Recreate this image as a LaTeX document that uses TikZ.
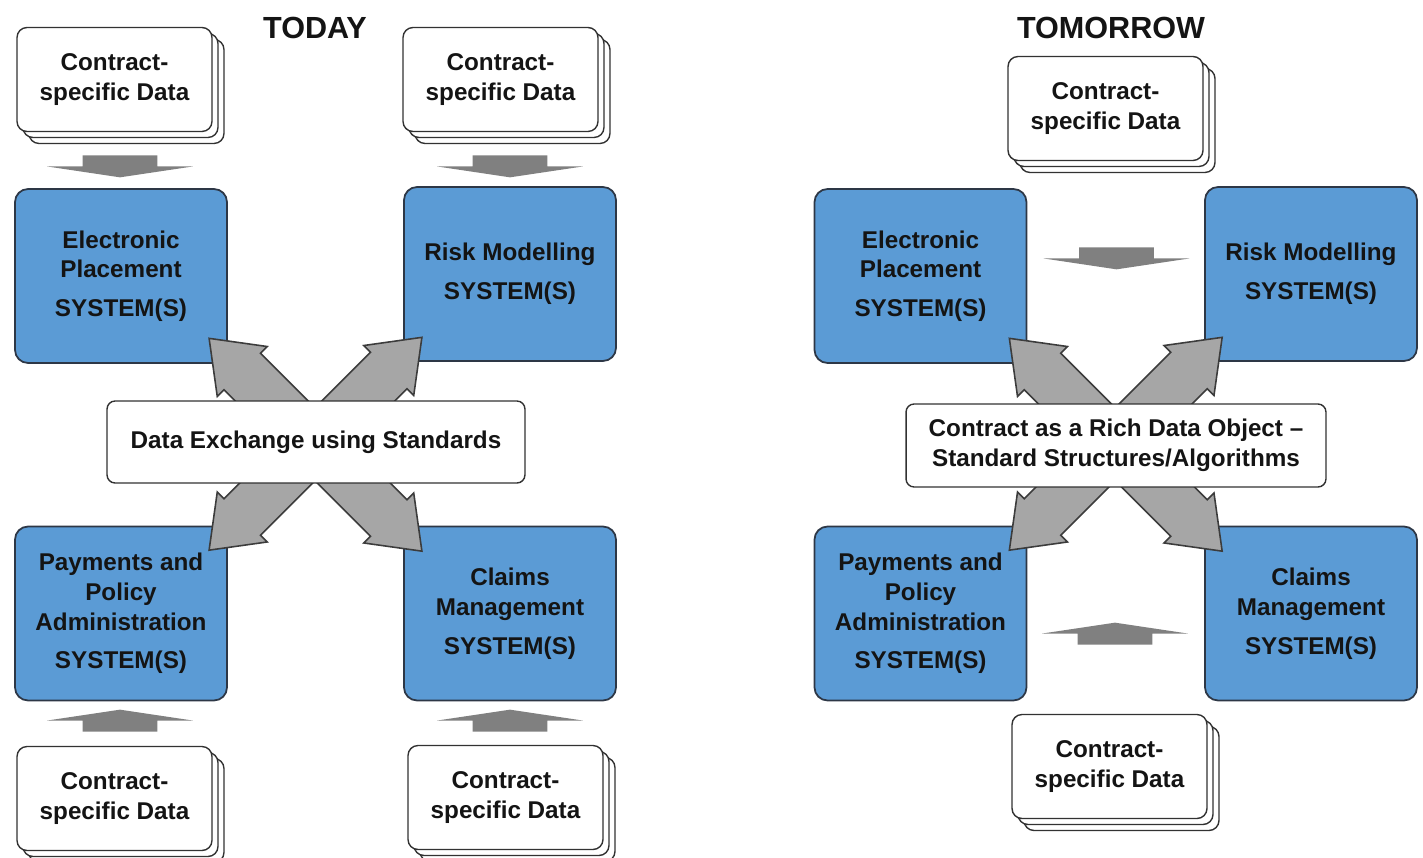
\documentclass[tikz,border=0pt]{standalone}
\usepackage{fontspec}
\setmainfont{Liberation Sans}
\usetikzlibrary{shapes.arrows,shadows,calc}

\definecolor{boxblue}{RGB}{91,155,213}
\definecolor{boxline}{RGB}{45,55,70}
\definecolor{arrowgray}{RGB}{166,166,166}
\definecolor{arrowline}{RGB}{60,60,60}
\definecolor{feedgray}{RGB}{128,128,128}
\definecolor{docline}{RGB}{50,50,50}
\definecolor{textdark}{RGB}{20,20,20}

\begin{document}
\begin{tikzpicture}[x=0.02cm, y=-0.02cm,
        every node/.style={font=\bfseries\fontsize{13.8}{17}\selectfont, text=textdark},
        title/.style={font=\bfseries\fontsize{17.4}{21}\selectfont},
        system/.style={draw=boxline, fill=boxblue, line width=1pt, rounded corners=0.26cm,
            minimum width=4.24cm, minimum height=3.48cm, align=center},
        docstack/.style={draw=docline, fill=white, line width=0.8pt, rounded corners=0.2cm,
            copy shadow={shadow xshift=0.24cm, shadow yshift=-0.24cm},
            copy shadow={shadow xshift=0.12cm, shadow yshift=-0.12cm},
            minimum width=3.9cm, minimum height=2.08cm, align=center},
        hub/.style={draw=docline, fill=white, line width=0.8pt, rounded corners=0.16cm,
            minimum width=8.36cm, minimum height=1.64cm, align=center},
        feed/.style={single arrow, anchor=tail, fill=feedgray, inner xsep=0pt, inner ysep=0.74cm,
            minimum height=0.44cm, single arrow head extend=0.71cm, single arrow tip angle=163},
        exchange/.style={double arrow, draw=arrowline, fill=arrowgray, line width=0.9pt,
            inner xsep=0pt, inner ysep=0.5cm, minimum height=6.02cm,
            double arrow head extend=0.19cm, double arrow tip angle=74}]
    \useasboundingbox (0,0) rectangle (1423,858);

    % today
    \node[title] (today) at (315,28) {TODAY};
    \node[docstack] (dataEP) at (114.5,79.5) {Contract-\\specific Data};
    \node[docstack] (dataRM) at (500.5,79.5) {Contract-\\specific Data};
    \node[system] (ep) at (121,276) {Electronic\\Placement\\[5pt]SYSTEM(S)};
    \node[system] (rm) at (510,274) {Risk Modelling\\[5pt]SYSTEM(S)};
    \node[system] (pp) at (121,613.5) {Payments and\\Policy\\Administration\\[5pt]SYSTEM(S)};
    \node[system] (cm) at (510,613.5) {Claims\\Management\\[5pt]SYSTEM(S)};
    \node[docstack] (dataPP) at (114.5,798.5) {Contract-\\specific Data};
    \node[docstack] (dataCM) at (505.5,797.5) {Contract-\\specific Data};

    \node[feed, rotate=-90] (inEP) at (120,155) {};
    \node[feed, rotate=-90] (inRM) at (510,155) {};
    \node[feed, rotate=90] (inPP) at (120,732) {};
    \node[feed, rotate=90] (inCM) at (510,732) {};

    \node[exchange, rotate=-45] (epcm) at ($(ep)!.5!(cm)$) {};
    \node[exchange, rotate=45] (rmpp) at ($(rm)!.5!(pp)$) {};
    \node[hub] (dx) at (316,442) {Data Exchange using Standards};

    % tomorrow
    \node[title] (tomorrow) at (1111,28) {TOMORROW};
    \node[docstack] (dataTop) at (1105.5,108.5) {Contract-\\specific Data};
    \node[system] (ep2) at (920.5,276) {Electronic\\Placement\\[5pt]SYSTEM(S)};
    \node[system] (rm2) at (1311,274) {Risk Modelling\\[5pt]SYSTEM(S)};
    \node[system] (pp2) at (920.5,613.5) {Payments and\\Policy\\Administration\\[5pt]SYSTEM(S)};
    \node[system] (cm2) at (1311,613.5) {Claims\\Management\\[5pt]SYSTEM(S)};
    \node[docstack] (dataBot) at (1109.5,766.5) {Contract-\\specific Data};

    \node[feed, rotate=-90] (flowTop) at (1116.5,247) {};
    \node[feed, rotate=90] (flowBot) at (1115,645) {};

    \node[exchange, rotate=-45] (epcm2) at ($(ep2)!.5!(cm2)$) {};
    \node[exchange, rotate=45] (rmpp2) at ($(rm2)!.5!(pp2)$) {};
    \node[hub, minimum width=8.4cm, minimum height=1.66cm] (obj) at (1116,445.5)
        {Contract as a Rich Data Object --\\Standard Structures/Algorithms};
\end{tikzpicture}
\end{document}
